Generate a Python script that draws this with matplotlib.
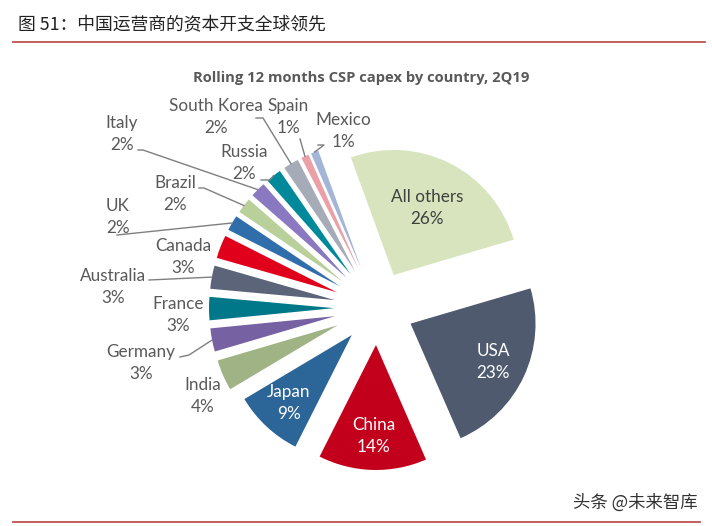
import math
import matplotlib
matplotlib.use("Agg")
import matplotlib.pyplot as plt

# data
countries = ['All others', 'USA', 'China', 'Japan', 'India', 'Germany', 'France',
             'Australia', 'Canada', 'UK', 'Brazil', 'Italy', 'Russia',
             'South Korea', 'Spain', 'Mexico']
shares = [26, 23, 14, 9, 4, 3, 3, 3, 3, 2, 2, 2, 2, 2, 1, 1]
colors = ['#d7e4bd', '#4f5a6e', '#c3001b', '#2c6597', '#a0b385', '#7662a2',
          '#00788a', '#5b6478', '#e0001b', '#2f6eaa', '#b9d09a', '#8a78c0',
          '#00899b', '#a6abb8', '#eba0a8', '#a3b6d8']

title = '图 51：中国运营商的资本开支全球领先'
subtitle = 'Rolling 12 months CSP capex by country, 2Q19'
watermark = '头条 @未来智库'

W, H = 712, 526
fig = plt.figure(figsize=(W / 100, H / 100), dpi=100)
ax = fig.add_axes([0, 0, 1, 1])

cx, cy, R = 377, H - 308, 125
explode = [37, 37, 37, 37] + [43] * (len(shares) - 4)
wedges, _ = ax.pie(shares, colors=colors, startangle=110, counterclock=False,
                   center=(cx, cy), radius=R, explode=explode,
                   wedgeprops=dict(linewidth=0))
ax.set_xlim(0, W)
ax.set_ylim(0, H)
ax.set_aspect('equal')
ax.axis('off')


def wedge_point(w, frac):
    ang = math.radians((w.theta1 + w.theta2) / 2)
    x0, y0 = w.center
    return x0 + frac * w.r * math.cos(ang), y0 + frac * w.r * math.sin(ang)


font = 'Lato'
gray = '#595959'
fs = 12.3

# labels inside the big slices
inside = {'All others': (0.6, '#404040'), 'USA': (0.73, 'white'),
          'China': (0.73, 'white'), 'Japan': (0.74, 'white')}
for w, name, val in zip(wedges, countries, shares):
    if name in inside:
        frac, c = inside[name]
        x, y = wedge_point(w, frac)
        ax.text(x, y, f'{name}\n{val}%', ha='center', va='center', color=c,
                fontsize=fs, family=font, linespacing=1.45)

# outside labels: text centre, leader start (pixel coords from top)
outside = {
    'India': ((203, 396), None),
    'Germany': ((141, 363), [(180, 357), (189, 355)]),
    'France': ((178, 315), None),
    'Australia': ((113, 287), [(149, 280)]),
    'Canada': ((183, 257), None),
    'UK': ((118, 217), [(117, 235)]),
    'Brazil': ((175, 194), [(199, 188), (204, 188)]),
    'Italy': ((122, 134), [(138, 150), (143, 150)]),
    'Russia': ((244, 163), [(261, 180), (270, 180)]),
    'South Korea': ((216, 117), [(256, 118), (263, 118)]),
    'Spain': ((288, 117), [(300, 139)]),
    'Mexico': ((343, 131), [(318, 145), (324, 145)]),
}
for w, name, val in zip(wedges, countries, shares):
    if name not in outside:
        continue
    (tx, ty), lead = outside[name]
    ax.text(tx, H - ty, f'{name}\n{val}%', ha='center', va='center', color=gray,
            fontsize=fs, family=font, linespacing=1.45)
    if lead:
        ex, ey = wedge_point(w, 1.0)
        xs = [p[0] for p in lead] + [ex]
        ys = [H - p[1] for p in lead] + [ey]
        ax.plot(xs, ys, color='#7f7f7f', lw=1)

fig.text(18 / W, 1 - 25 / H, title, fontsize=12.8, family=['Noto Sans CJK SC', 'DejaVu Sans'],
         va='center', ha='left', color='#222222')
fig.add_artist(plt.Line2D([13 / W, 705 / W], [1 - 42 / H, 1 - 42 / H], color='#c0504d', lw=1.3))
fig.text(361 / W, 1 - 78 / H, subtitle, fontsize=10.6, family='Open Sans', weight='bold',
         ha='center', va='center', color=gray)
fig.text(698 / W, 1 - 503 / H, watermark, fontsize=12.5, family=['Noto Sans CJK SC', 'DejaVu Sans'],
         ha='right', va='center', color='#333333')
fig.add_artist(plt.Line2D([13 / W, 700 / W], [1 - 522 / H, 1 - 522 / H], color='#c0504d', lw=1.3))

fig.savefig('out.png', dpi=100)
